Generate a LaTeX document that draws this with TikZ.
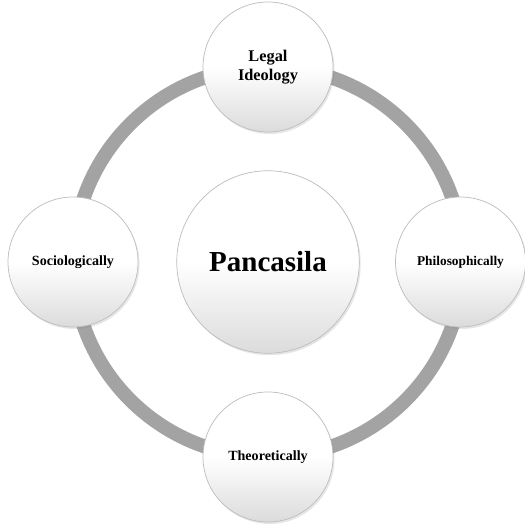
\documentclass[tikz,border=0pt]{standalone}
\usepackage{fontspec}
\setmainfont{Liberation Serif}
\usepackage{xcolor}
\usetikzlibrary{shadows}
\definecolor{ringgray}{HTML}{A3A3A3}
\definecolor{rimgray}{HTML}{BDBDBD}
\colorlet{ballbottom}{black!14}
\tikzstyle{ball} = [
    circle,
    draw=rimgray,
    thin,
    top color=white,
    bottom color=ballbottom,
    middle color=white,
    shading angle=0,
    drop shadow={opacity=0.2, shadow xshift=0.03cm, shadow yshift=-0.04cm},
    align=center,
    font=\bfseries,
    inner sep=0pt
    ]
\tikzstyle{smallball} = [
    ball,
    minimum size=2.6cm,
    font=\bfseries\fontsize{8}{9.5}\selectfont
    ]
\tikzstyle{bigball} = [
    ball,
    minimum size=3.65cm,
    font=\bfseries\fontsize{16.5}{19}\selectfont
    ]
\tikzstyle{ringline} = [
    draw=ringgray,
    line width=0.28cm
    ]

\begin{document}
\begin{tikzpicture}
\useasboundingbox (-5.36,-5.24) rectangle (5.14,5.24);
\coordinate (hub) at (0,0);
% ring behind the circles
\draw[ringline] (hub) circle (3.9cm);
\node[bigball] (pancasila) at (hub) {Pancasila};
\node[smallball, font=\bfseries\fontsize{9.3}{11}\selectfont] (legal) at (0,3.9) {Legal\\Ideology};
\node[smallball, font=\bfseries\fontsize{7.6}{9}\selectfont] (philo) at (3.85,0) {Philosophically};
\node[smallball] (theo) at (0,-3.9) {Theoretically};
\node[smallball] (socio) at (-3.9,0) {Sociologically};
\end{tikzpicture}
\end{document}
